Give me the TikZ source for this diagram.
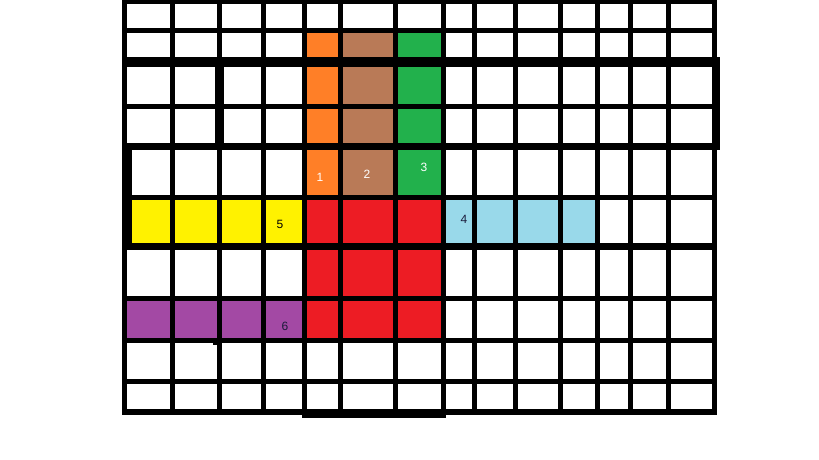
\documentclass[tikz,border=0pt]{standalone}
\usepackage{fontspec}
\setmainfont{Liberation Sans}
\definecolor{cOrange}{HTML}{FF7F27}
\definecolor{cBrown}{HTML}{B97A57}
\definecolor{cGreen}{HTML}{22B14C}
\definecolor{cRed}{HTML}{ED1C24}
\definecolor{cYellow}{HTML}{FFF200}
\definecolor{cBlue}{HTML}{99D9EA}
\definecolor{cPurple}{HTML}{A349A4}
\definecolor{cNavy}{HTML}{1A1A3A}
\begin{document}
\begin{tikzpicture}[x=1pt,y=-1pt,
  gridline/.style={line width=5pt,black},
  lbl/.style={inner sep=0pt,font=\fontsize{12}{12}\selectfont}]
\useasboundingbox (0,0) rectangle (819,460);
\fill[white] (0,0) rectangle (819,460);
% coloured cells
\fill[cOrange] (304,30.5) rectangle (340.5,197.5);
\fill[cBrown] (340.5,30.5) rectangle (395.5,197.5);
\fill[cGreen] (395.5,30.5) rectangle (443.5,197.5);
\fill[cRed] (304,197.5) rectangle (443.5,340.5);
\fill[cYellow] (124.5,197.5) rectangle (304,246.5);
\fill[cBlue] (443.5,197.5) rectangle (597.5,246.5);
\fill[cPurple] (124.5,298.5) rectangle (304,340.5);
% vertical lines
\foreach \x in {124.5,172.5,219.5,263.5,304,340.5,395.5,443.5,474.5,515.5,560.5,597.5,630.5,668.5,714.5}
  \draw[gridline] (\x,0) -- (\x,414);
% horizontal lines
\foreach \y in {2,30.5,106.5,197.5,298.5,340.5,381.5}
  \draw[gridline] (122,\y) -- (717,\y);
\draw[gridline,line width=10pt] (122,62) -- (720,62);
\draw[gridline,line width=7pt] (122,146.5) -- (717,146.5);
\draw[gridline,line width=7pt] (122,246.5) -- (717,246.5);
\draw[gridline,line width=6pt] (122,412) -- (717,412);
% hand-drawn irregularities
\fill[black] (302,409) rectangle (446,418);
\fill[black] (712,57) rectangle (720,150);
\fill[black] (122,143) rectangle (132,250);
\fill[black] (215,62) rectangle (224,146);
\fill[black] (213,338) rectangle (222,345);
% labels
\node[lbl,text=white] (n1) at (320,177) {1};
\node[lbl,text=white] (n2) at (367,174) {2};
\node[lbl,text=white] (n3) at (424,167) {3};
\node[lbl,text=cNavy] (n4) at (464,219) {4};
\node[lbl,text=black] (n5) at (280,224) {5};
\node[lbl,text=cNavy] (n6) at (285,326) {6};
\end{tikzpicture}
\end{document}
